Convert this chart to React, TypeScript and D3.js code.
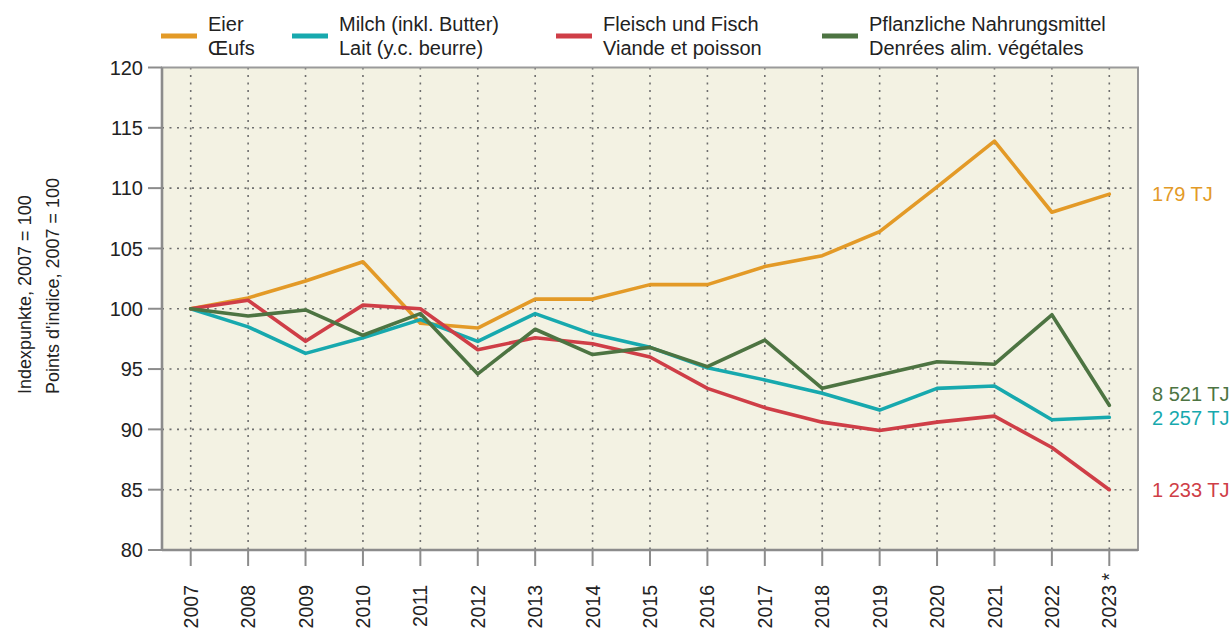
import * as d3 from "d3";

const years = ["2007", "2008", "2009", "2010", "2011", "2012", "2013", "2014", "2015", "2016", "2017", "2018", "2019", "2020", "2021", "2022", "2023"];
const footnoted = ["2023"];

const eier = [100, 100.9, 102.3, 103.9, 98.8, 98.4, 100.8, 100.8, 102.0, 102.0, 103.5, 104.4, 106.4, 110.1, 113.9, 108.0, 109.5];
const milch = [100, 98.5, 96.3, 97.6, 99.1, 97.3, 99.6, 97.9, 96.8, 95.1, 94.1, 93.0, 91.6, 93.4, 93.6, 90.8, 91.0];
const fleisch = [100, 100.7, 97.3, 100.3, 100.0, 96.6, 97.6, 97.1, 96.0, 93.4, 91.8, 90.6, 89.9, 90.6, 91.1, 88.5, 85.0];
const pflanzlich = [100, 99.4, 99.9, 97.8, 99.6, 94.6, 98.3, 96.2, 96.8, 95.2, 97.4, 93.4, 94.5, 95.6, 95.4, 99.5, 92.0];

const yTicks = [80, 85, 90, 95, 100, 105, 110, 115, 120];

const seriesNames = [
  ["Eier", "Œufs"],
  ["Milch (inkl. Butter)", "Lait (y.c. beurre)"],
  ["Fleisch und Fisch", "Viande et poisson"],
  ["Pflanzliche Nahrungsmittel", "Denrées alim. végétales"],
];
const endLabels = ["179 TJ", "2 257 TJ", "1 233 TJ", "8 521 TJ"];
const yTitle = ["Indexpunkte, 2007 = 100", "Points d'indice, 2007 = 100"];

const W = 1232;
const H = 632;
const M = { left: 162, right: 1138, top: 67.5, bottom: 550 };
const font = "'Liberation Sans', Arial, Helvetica, sans-serif";

const series = [
  { values: eier, color: "#e39a27", labelDy: 0 },
  { values: milch, color: "#17a9ae", labelDy: 0 },
  { values: fleisch, color: "#cf3e47", labelDy: 0 },
  { values: pflanzlich, color: "#4d7442", labelDy: -11 },
];
const legendX = [161, 292, 556, 822];

export default function App() {
  const x = d3.scalePoint<string>().domain(years).range([M.left, M.right]).padding(0.5);
  const y = d3.scaleLinear().domain([80, 120]).range([M.bottom, M.top]);
  const line = d3
    .line<number>()
    .x((_, i) => x(years[i])!)
    .y((d) => y(d));

  return (
    <svg
      width={W}
      height={H}
      style={{ position: "absolute", left: 0, top: 0, background: "#fff" }}
      fontFamily={font}
    >
      {/* plot background */}
      <rect x={M.left} y={M.top} width={M.right - M.left} height={M.bottom - M.top} fill="#f3f2e3" />

      {/* grid */}
      {yTicks.slice(1, -1).map((t) => (
        <line
          key={"gy" + t}
          x1={M.left}
          x2={M.right}
          y1={y(t)}
          y2={y(t)}
          stroke="#6e6e6e"
          strokeWidth={1.6}
          strokeDasharray="2 5.5"
        />
      ))}
      {years.map((yr) => (
        <line
          key={"gx" + yr}
          x1={x(yr)}
          x2={x(yr)}
          y1={M.top}
          y2={M.bottom}
          stroke="#6e6e6e"
          strokeWidth={1.6}
          strokeDasharray="2 5.5"
        />
      ))}

      {/* frame */}
      <rect
        x={M.left}
        y={M.top}
        width={M.right - M.left}
        height={M.bottom - M.top}
        fill="none"
        stroke="#9a9a9a"
        strokeWidth={2}
      />
      <line x1={M.left} x2={M.left} y1={M.top} y2={M.bottom + 1} stroke="#8c8c8c" strokeWidth={2.6} />
      <line x1={M.left} x2={M.right} y1={M.bottom} y2={M.bottom} stroke="#8c8c8c" strokeWidth={2.6} />

      {/* y axis */}
      {yTicks.map((t) => (
        <g key={"yt" + t}>
          <line x1={148} x2={M.left} y1={y(t)} y2={y(t)} stroke="#8c8c8c" strokeWidth={2} />
          <text x={143} y={y(t)} dy="0.36em" textAnchor="end" fontSize={20} fill="#222">
            {t}
          </text>
        </g>
      ))}

      {/* x axis */}
      {years.map((yr) => (
        <g key={"xt" + yr}>
          <line x1={x(yr)} x2={x(yr)} y1={M.bottom} y2={566} stroke="#8c8c8c" strokeWidth={2} />
          <text
            transform={`translate(${x(yr)},585) rotate(-90)`}
            dy="0.36em"
            textAnchor="end"
            fontSize={19.5}
            fill="#222"
          >
            {yr}
          </text>
          {footnoted.includes(yr) && (
            <text
              transform={`translate(${x(yr)},573) rotate(-90)`}
              dy="0.36em"
              textAnchor="end"
              fontSize={19.5}
              fill="#222"
            >
              *
            </text>
          )}
        </g>
      ))}

      {/* y title */}
      {yTitle.map((t, i) => (
        <text
          key={t}
          transform={`translate(${25 + i * 28},394) rotate(-90)`}
          dy="0.36em"
          textAnchor="start"
          fontSize={18}
          fill="#222"
        >
          {t}
        </text>
      ))}

      {/* series */}
      {series.map((s, i) => (
        <path
          key={"s" + i}
          d={line(s.values)!}
          fill="none"
          stroke={s.color}
          strokeWidth={3.6}
          strokeLinejoin="round"
          strokeLinecap="round"
        />
      ))}

      {/* end labels */}
      {series.map((s, i) => (
        <text
          key={"el" + i}
          x={1152}
          y={y(s.values[s.values.length - 1]) + s.labelDy}
          dy="0.36em"
          fontSize={20}
          fill={s.color}
        >
          {endLabels[i]}
        </text>
      ))}

      {/* legend */}
      {series.map((s, i) => (
        <g key={"lg" + i}>
          <line
            x1={legendX[i]}
            x2={legendX[i] + 36}
            y1={36}
            y2={36}
            stroke={s.color}
            strokeWidth={5}
          />
          <text x={legendX[i] + 47} y={31} fontSize={20} fill="#222">
            {seriesNames[i][0]}
          </text>
          <text x={legendX[i] + 47} y={55} fontSize={20} fill="#222">
            {seriesNames[i][1]}
          </text>
        </g>
      ))}
    </svg>
  );
}
